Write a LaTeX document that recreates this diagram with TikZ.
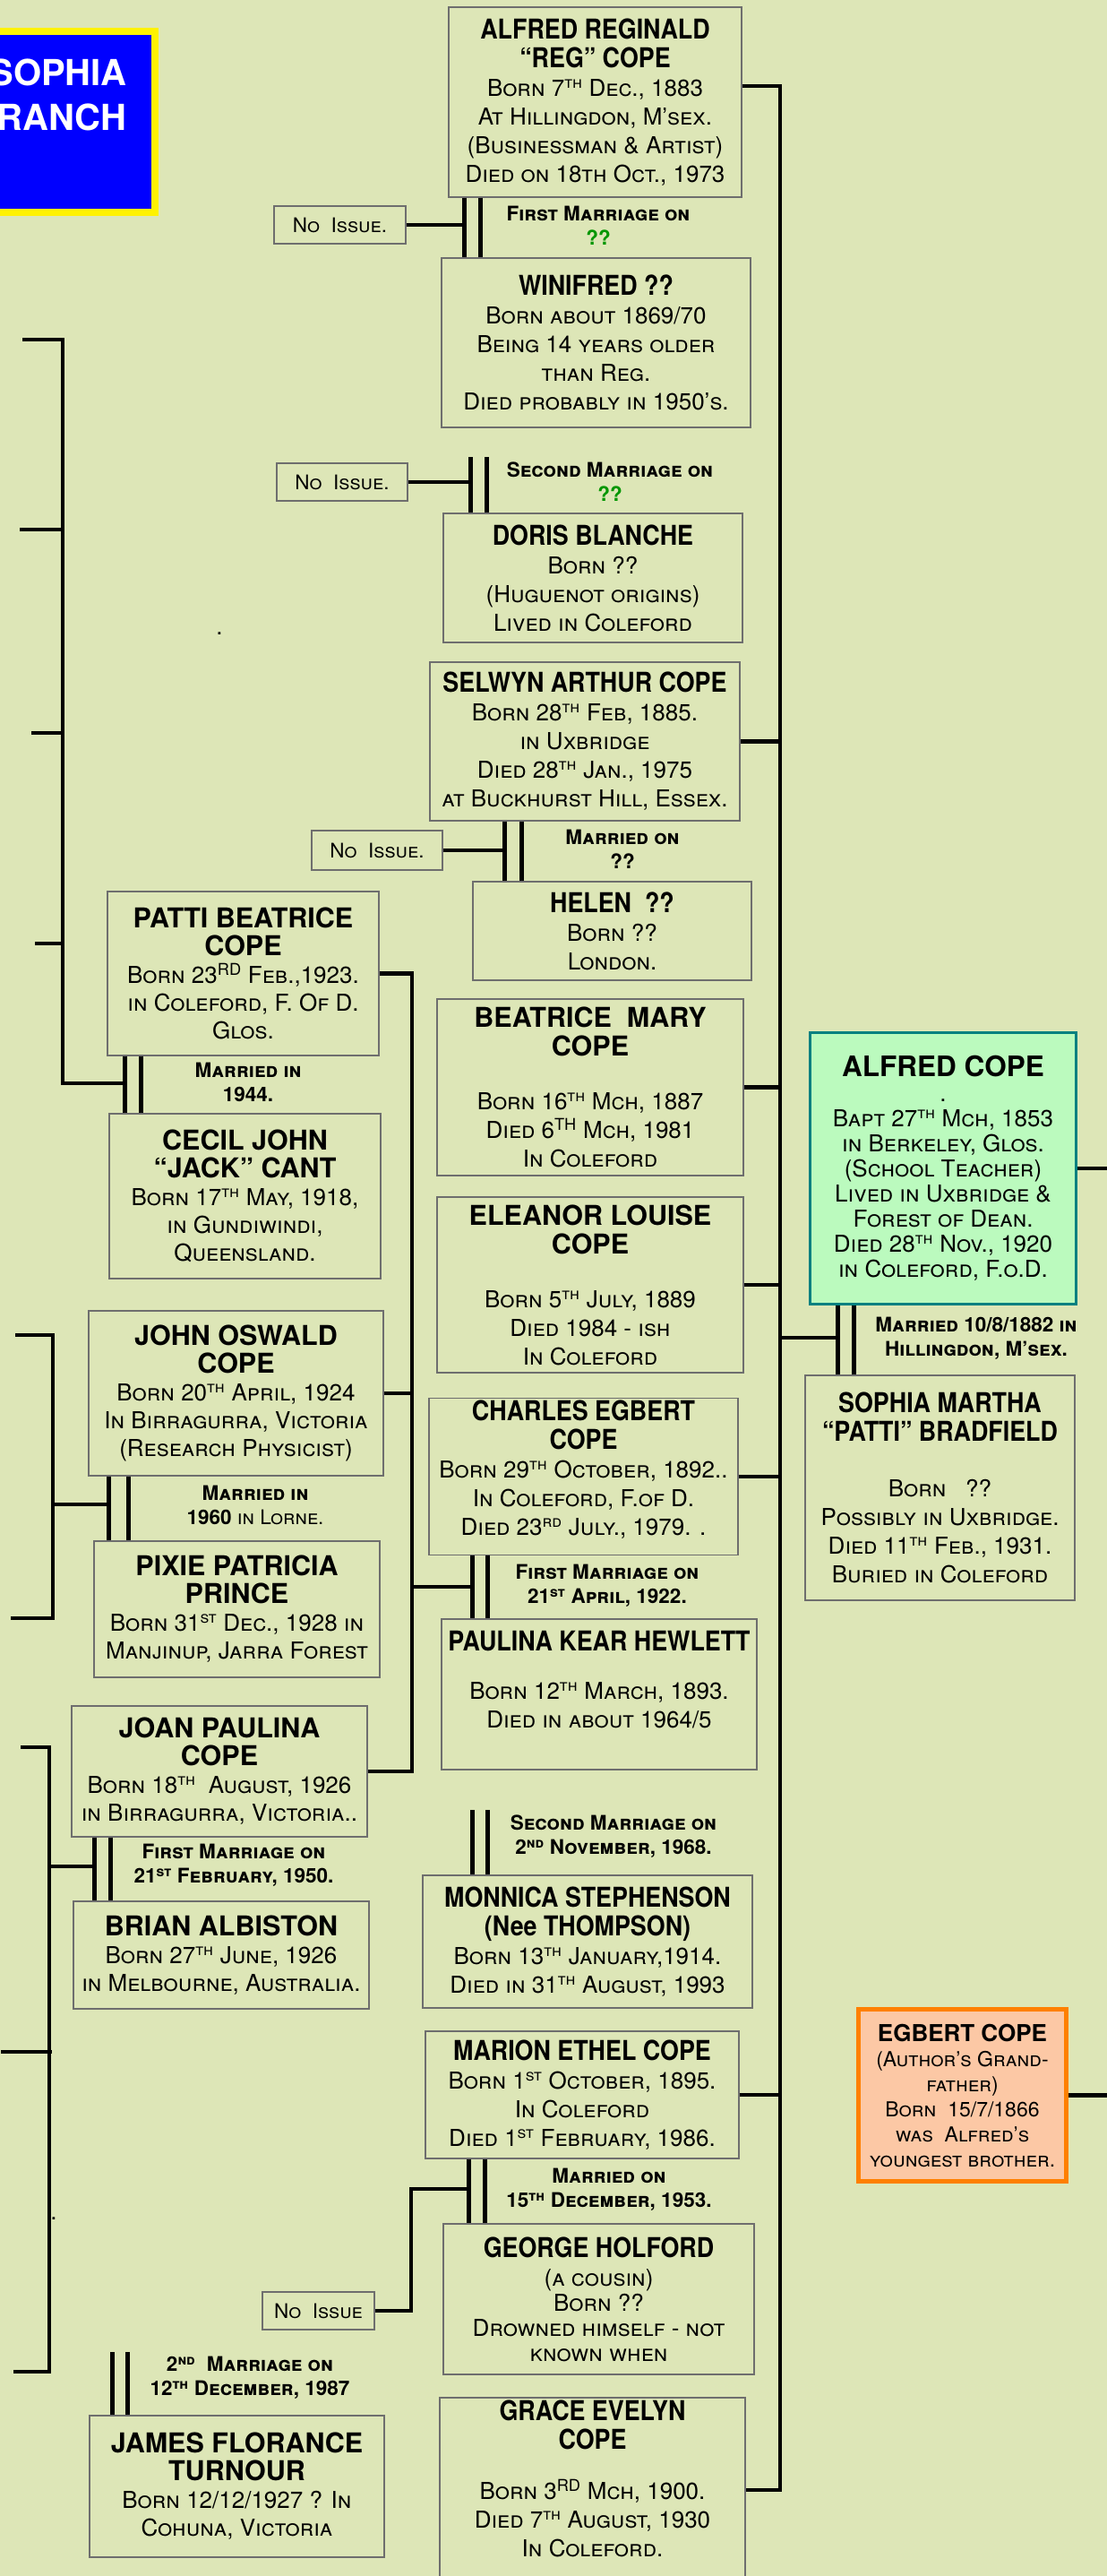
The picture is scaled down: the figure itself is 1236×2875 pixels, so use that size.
\documentclass[tikz,border=0pt]{standalone}
\usepackage{fontspec}
\setmainfont{TeX Gyre Heros}
\newfontfamily\narrowfont[FakeStretch=0.88]{TeX Gyre Heros}

\definecolor{bgcol}{RGB}{221,230,183}
\definecolor{boxgray}{RGB}{110,110,110}
\definecolor{alfgreen}{RGB}{187,250,190}
\definecolor{alfteal}{RGB}{0,128,128}
\definecolor{egbfill}{RGB}{252,200,165}
\definecolor{egborange}{RGB}{255,128,0}
\definecolor{qgreen}{RGB}{0,150,0}

\newcommand\ttn{\narrowfont\bfseries\upshape\fontsize{30.5}{30}\selectfont}
\newcommand\ttw{\rmfamily\bfseries\upshape\fontsize{30.5}{30}\selectfont}
\newcommand\bdy{\rmfamily\scshape\fontsize{26}{32}\selectfont}
\newcommand\bds{\rmfamily\scshape\fontsize{23}{28}\selectfont}
\newcommand\wedf{\rmfamily\bfseries\scshape\fontsize{22.5}{27}\selectfont}
\newcommand\ord[1]{\textsuperscript{#1}}

\begin{document}
\begin{tikzpicture}[x=1pt, y=-1pt,
  person/.style={draw=boxgray, line width=1.3pt, align=center, inner sep=2pt, font=\bdy},
  kid/.style={person, font=\rmfamily\scshape\fontsize{26}{31}\selectfont},
  noissue/.style={person, font=\rmfamily\scshape\fontsize{22.5}{27}\selectfont},
  wedlbl/.style={align=center, inner sep=0pt, font=\wedf},
  link/.style={line width=4.5pt},
  wed/.style={line width=5pt}]
\fill[bgcol] (0,0) rectangle (1236,2875);
\useasboundingbox (0,0) rectangle (1236,2875);
\clip (0,0) rectangle (1236,2875);

% branch title
\node[draw=yellow, fill=blue, line width=8pt, minimum width=300pt, minimum height=202pt, inner sep=0pt] (SB) at (23,136) {};
\node[anchor=north east, align=right, text=white, font=\bfseries\fontsize{40}{50}\selectfont, inner sep=0pt] (SBT) at (142,66) {SOPHIA\\BRANCH};

% Alfred and Sophia
\node[person, draw=alfteal, line width=3pt, fill=alfgreen, minimum width=297pt, minimum height=303pt, font=\rmfamily\scshape\fontsize{26}{28}\selectfont] (G1N0) at (1053,1304) {\ttw\fontsize{31.5}{30}\selectfont ALFRED COPE\\ \bdy .\\ \bdy Bapt 27\ord{th} Mch, 1853\\ \bdy in Berkeley, Glos.\\ \bdy (School Teacher)\\ \bdy Lived in Uxbridge \&\\ \bdy Forest of Dean.\\ \bdy Died 28\ord{th} Nov., 1920\\ \bdy in Coleford, F.o.D.};
\node[person, minimum width=301pt, minimum height=251pt] (G1N1) at (1049.5,1660.5) {\ttn SOPHIA MARTHA\\ \ttn “PATTI” BRADFIELD\\[30pt] \bdy Born\ \ \ ??\\ \bdy Possibly in Uxbridge.\\ \bdy Died 11\ord{th} Feb., 1931.\\ \bdy Buried in Coleford};
\node[person, draw=egborange, line width=5pt, fill=egbfill, minimum width=232pt, minimum height=192pt, font=\bds] (G1N2) at (1074.5,2338.5) {\ttw\fontsize{26}{28}\selectfont EGBERT COPE\\ \bds (Author’s Grand-\\ \bds father)\\ \bds Born\ \ 15/7/1866\\ \bds was\ \ Alfred’s\\ \bds youngest brother.};

% their children
\node[person, minimum width=327pt, minimum height=212pt] (G2N1) at (664.5,114) {\ttn ALFRED REGINALD\\ \ttn “REG” COPE\\ \bdy Born 7\ord{th} Dec., 1883\\ \bdy At Hillingdon, M’sex.\\ \bdy (Businessman \& Artist)\\ \bdy Died on 18th Oct., 1973};
\node[person, minimum width=345pt, minimum height=189pt] (G2N1a) at (665.5,382.5) {\ttn WINIFRED ??\\ \bdy Born about 1869/70\\ \bdy Being 14 years older\\ \bdy than Reg.\\ \bdy Died probably in 1950’s.};
\node[person, minimum width=334pt, minimum height=144pt] (G2N1b) at (662,645) {\ttn DORIS BLANCHE\\ \bdy Born ??\\ \bdy (Huguenot origins)\\ \bdy Lived in Coleford};
\node[person, minimum width=346pt, minimum height=177pt] (G2N2) at (653,827.5) {\ttn SELWYN ARTHUR COPE\\ \bdy Born 28\ord{th} Feb, 1885.\\ \bdy in Uxbridge\\ \bdy Died 28\ord{th} Jan., 1975\\ \bdy at Buckhurst Hill, Essex.};
\node[person, minimum width=311pt, minimum height=110pt] (G2N2a) at (683.5,1039) {\ttn HELEN\ \ ??\\ \bdy Born ??\\ \bdy London.};
\node[person, minimum width=342pt, minimum height=197pt] (G2N3) at (659,1213.5) {\ttw BEATRICE\ \ MARY\\ \ttw COPE\\[28pt] \bdy Born 16\ord{th} Mch, 1887\\ \bdy Died 6\ord{TH} Mch, 1981\\ \bdy In Coleford};
\node[person, minimum width=342pt, minimum height=196pt] (G2N4) at (659,1434) {\ttw ELEANOR LOUISE\\ \ttw COPE\\[28pt] \bdy Born 5\ord{th} July, 1889\\ \bdy Died 1984 - ish\\ \bdy In Coleford};
\node[person, minimum width=345pt, minimum height=174pt] (G2N5) at (651.5,1648) {\ttn CHARLES EGBERT\\ \ttn COPE\\ \bdy Born 29\ord{th} October, 1892..\\ \bdy In Coleford, F.of D.\\ \bdy Died 23\ord{rd} July., 1979. .\\[-12pt] \mbox{}};
\node[person, minimum width=352pt, minimum height=168pt] (G2N5a) at (669,1891) {\ttn PAULINA KEAR HEWLETT\\[22pt] \bdy Born 12\ord{th} March, 1893.\\ \bdy Died in about 1964/5\\[2pt] \mbox{}};
\node[person, minimum width=368pt, minimum height=148pt] (G2N5b) at (656,2167) {\ttn MONNICA STEPHENSON\\ \ttn (Nee THOMPSON)\\ \bdy Born 13\ord{th} January,1914.\\ \bdy Died in 31\ord{th} August, 1993};
\node[person, minimum width=350pt, minimum height=142pt] (G2N6) at (650,2338) {\ttn MARION ETHEL COPE\\ \bdy Born 1\ord{st} October, 1895.\\ \bdy In Coleford\\ \bdy Died 1\ord{st} February, 1986.};
\node[person, minimum width=347pt, minimum height=168pt, font=\rmfamily\scshape\fontsize{26}{28}\selectfont] (G2N6a) at (668.5,2566) {\ttn GEORGE HOLFORD\\[4pt] \bdy (a cousin)\\ \bdy Born ??\\ \bdy Drowned himself - not\\ \bdy known when};
\node[person, minimum width=341pt, minimum height=206pt] (G2N7) at (661.5,2779) {\ttn GRACE EVELYN\\ \ttn COPE\\[24pt] \bdy Born 3\ord{RD} Mch, 1900.\\ \bdy Died 7\ord{th} August, 1930\\ \bdy In Coleford.\\[-6pt] \mbox{}};

% grandchildren
\node[kid, minimum width=303pt, minimum height=183pt] (G3N1) at (271.5,1086.5) {\ttw PATTI BEATRICE\\ \ttw COPE\\ \bdy Born 23\ord{RD} Feb.,1923.\\ \bdy in Coleford, F. Of D.\\ \bdy Glos.};
\node[kid, minimum width=303pt, minimum height=184pt] (G3N1a) at (273.5,1335) {\ttw CECIL JOHN\\ \ttw “JACK” CANT\\ \bdy Born 17\ord{th} May, 1918,\\ \bdy in Gundiwindi,\\ \bdy Queensland.};
\node[kid, minimum width=329pt, minimum height=184pt] (G3N2) at (263.5,1555) {\ttw JOHN OSWALD\\ \ttw COPE\\ \bdy Born 20\ord{th} April, 1924\\ \bdy In Birragurra, Victoria\\ \bdy (Research Physicist)};
\node[kid, minimum width=319pt, minimum height=152pt] (G3N2a) at (264.5,1796) {\ttw PIXIE PATRICIA\\ \ttw PRINCE\\ \bdy Born 31\ord{st} Dec., 1928 in\\ \bdy Manjinup, Jarra Forest};
\node[kid, minimum width=330pt, minimum height=146pt] (G3N3) at (245,1977) {\ttw JOAN PAULINA\\ \ttw COPE\\ \bdy Born 18\ord{th}\ \ August, 1926\\ \bdy in Birragurra, Victoria..};
\node[kid, minimum width=330pt, minimum height=120pt] (G3N3a) at (247,2182) {\ttw BRIAN ALBISTON\\ \bdy Born 27\ord{th} June, 1926\\ \bdy in Melbourne, Australia.};
\node[kid, minimum width=329pt, minimum height=158pt] (G3N3b) at (264.5,2775) {\ttw JAMES FLORANCE\\ \ttw TURNOUR\\ \bdy Born 12/12/1927 ? In\\ \bdy Cohuna, Victoria};

% no issue
\node[noissue, minimum width=147pt, minimum height=42pt] (N1) at (379.5,251) {No\ \ Issue.};
\node[noissue, minimum width=146pt, minimum height=42pt] (N2) at (382,538) {No\ \ Issue.};
\node[noissue, minimum width=146pt, minimum height=44pt] (N3) at (421,949) {No\ \ Issue.};
\node[noissue, minimum width=125pt, minimum height=42pt] (N4) at (355.5,2579) {No\ \ Issue};

% marriage notes
\node[wedlbl] (L1) at (668,252) {First Marriage on\\ \wedf\color{qgreen} ??};
\node[wedlbl] (L2) at (681,538) {Second Marriage on\\ \wedf\color{qgreen} ??};
\node[wedlbl] (L3) at (695,948) {Married on\\ ??};
\node[wedlbl] (L4) at (1090,1494) {Married 10/8/1882 in\\ Hillingdon, M’sex.};
\node[wedlbl] (L5) at (678,1770) {First Marriage on\\ 21\ord{st} April, 1922.};
\node[wedlbl] (L6) at (685,2050) {Second Marriage on\\ 2\ord{nd} November, 1968.};
\node[wedlbl] (L7) at (680,2444) {Married on\\ 15\ord{th} December, 1953.};
\node[wedlbl] (L8) at (277,1208) {Married in\\ 1944.};
\node[wedlbl] (L9) at (285,1680) {Married in\\ 1960 {\mdseries in Lorne.}};
\node[wedlbl] (L10) at (261,2082) {First Marriage on\\ 21\ord{st} February, 1950.};
\node[wedlbl] (L11) at (279,2654) {2\ord{nd}\ \ Marriage on\\ 12\ord{th} December, 1987};

% stray dots
\node[inner sep=0pt, font=\bdy] (D1) at (245,707) {.};
\node[inner sep=0pt, font=\bdy] (D2) at (60,2476) {.};

% marriage lines
\coordinate (M1a) at (518,0);   \coordinate (M1b) at (536,0);
\coordinate (M2a) at (525,510); \coordinate (M2b) at (543,510);
\coordinate (M3a) at (563,0);   \coordinate (M3b) at (582,0);
\coordinate (M4a) at (935,1493); \coordinate (M4b) at (953,1493);
\coordinate (M5a) at (527,1771); \coordinate (M5b) at (544,1771);
\coordinate (M6a) at (527,2020); \coordinate (M6b) at (544,2020);
\coordinate (M7a) at (523,2443); \coordinate (M7b) at (541,2443);
\coordinate (M8a) at (139,1209); \coordinate (M8b) at (157,1209);
\coordinate (M9a) at (121,1679); \coordinate (M9b) at (143,1679);
\coordinate (M10a) at (105,2083); \coordinate (M10b) at (123,2083);
\coordinate (M11a) at (125,2625); \coordinate (M11b) at (142,2625);
\foreach \s in {a,b} {
  \draw[wed] (G2N1.south -| M1\s) -- (G2N1a.north -| M1\s);
  \draw[wed] (M2\s) -- (G2N1b.north -| M2\s);
  \draw[wed] (G2N2.south -| M3\s) -- (G2N2a.north -| M3\s);
  \draw[wed] (G1N0.south -| M4\s) -- (G1N1.north -| M4\s);
  \draw[wed] (G2N5.south -| M5\s) -- (G2N5a.north -| M5\s);
  \draw[wed] (M6\s) -- (G2N5b.north -| M6\s);
  \draw[wed] (G2N6.south -| M7\s) -- (G2N6a.north -| M7\s);
  \draw[wed] (G3N1.south -| M8\s) -- (G3N1a.north -| M8\s);
  \draw[wed] (G3N2.south -| M9\s) -- (G3N2a.north -| M9\s);
  \draw[wed] (G3N3.south -| M10\s) -- (G3N3a.north -| M10\s);
  \draw[wed] (M11\s) -- (G3N3b.north -| M11\s);
}

% no issue links
\draw[link] (N1.east) -- (N1.east -| M1a);
\draw[link] (N2.east) -- (N2.east -| M2a);
\draw[link] (N3.east) -- (N3.east -| M3a);
\coordinate (K4) at (459,2443);
\draw[link] (N4.east) -| (K4) -- (M7a);

% children of Alfred
\coordinate (Tr) at (871,0);
\draw[link] ([yshift=18pt]G2N1.east) -| (Tr |- G2N7.east) -- (G2N7.east);
\foreach \n in {G2N2,G2N3,G2N4,G2N5,G2N6}
  \draw[link] (\n.east) -- (\n.east -| Tr);
\draw[link] (M4a) -- (M4a -| Tr);

% children of Charles
\coordinate (Cb) at (460,0);
\draw[link] (G3N1.east) -| (Cb |- G3N3.east) -- (G3N3.east);
\draw[link] (G3N2.east) -- (G3N2.east -| Cb);
\draw[link] (M5a) -- (M5a -| Cb);

% off to the right
\coordinate (Ed) at (1236,0);
\draw[link] (G1N0.east) -- (G1N0.east -| Ed);
\draw[link] (G1N2.east) -- (G1N2.east -| Ed);

% brackets at left edge
\coordinate (A0) at (25,379); \coordinate (At) at (70,379); \coordinate (Ab) at (70,1209);
\coordinate (A1) at (22,591); \coordinate (A2) at (35,818); \coordinate (A3) at (39,1053);
\draw[link] (A0) -- (At) -- (Ab) -- (M8a);
\foreach \c in {A1,A2,A3}
  \draw[link] (\c) -- (\c -| At);
\coordinate (B0) at (17,1490); \coordinate (Bt) at (59,1490); \coordinate (Bb) at (59,1806); \coordinate (B1) at (12,1806);
\draw[link] (B0) -- (Bt) -- (Bb) -- (B1);
\draw[link] (M9a -| Bt) -- (M9a);
\coordinate (C0) at (23,1950); \coordinate (Ct) at (55,1950); \coordinate (Cbt) at (55,2647); \coordinate (C1) at (15,2647);
\coordinate (C2) at (1,2290); \coordinate (C3) at (58,2290);
\draw[link] (C0) -- (Ct) -- (Cbt) -- (C1);
\draw[link] (C2) -- (C3);
\draw[link] (M10a -| Ct) -- (M10a);
\end{tikzpicture}
\end{document}
